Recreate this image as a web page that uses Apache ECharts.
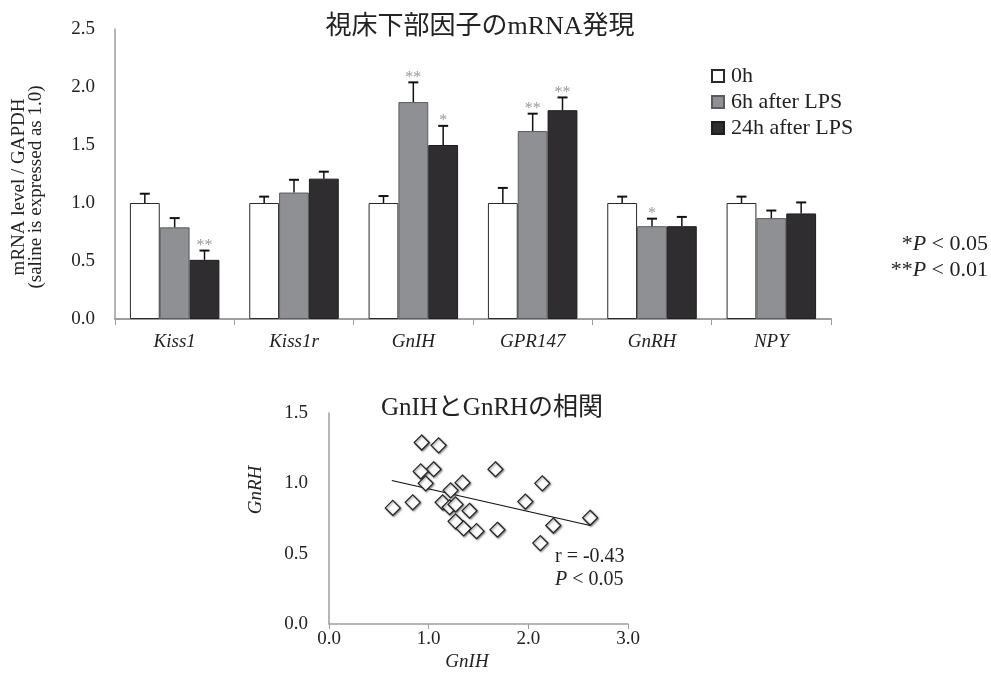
<!DOCTYPE html>
<html><head><meta charset="utf-8">
<script src="https://cdn.jsdelivr.net/npm/echarts@6/dist/echarts.min.js"></script>
<style>html,body{margin:0;padding:0;background:#fff}#c{width:991px;height:680px}</style>
</head><body><div id="c"></div>
<script>
// ---- Bar chart data ----
const categories = ['Kiss1', 'Kiss1r', 'GnIH', 'GPR147', 'GnRH', 'NPY'];
const seriesNames = ['0h', '6h after LPS', '24h after LPS'];
const values0h  = [1.00, 1.00, 1.00, 1.00, 1.00, 1.00];
const values6h  = [0.79, 1.09, 1.87, 1.62, 0.80, 0.87];
const values24h = [0.51, 1.21, 1.50, 1.80, 0.80, 0.91];
const err0h  = [0.08, 0.055, 0.06, 0.13, 0.055, 0.055];
const err6h  = [0.08, 0.11, 0.17, 0.15, 0.065, 0.065];
const err24h = [0.08, 0.06, 0.165, 0.11, 0.08, 0.095];
const sig0h  = ['', '', '', '', '', ''];
const sig6h  = ['', '', '**', '**', '*', ''];
const sig24h = ['**', '', '*', '**', '', ''];
const barYTicks = [0, 2.5, 0.5]; // min, max, interval

// ---- Scatter data ----
const gnihValues = [0.93, 1.10, 1.05, 0.92, 0.97, 1.34, 1.67, 2.14, 1.22, 0.64, 0.84, 1.14, 1.21, 1.27, 1.41, 1.27, 1.35, 1.48, 1.69, 1.97, 2.25, 2.12, 2.62];
const gnrhValues = [1.29, 1.27, 1.10, 1.085, 1.00, 1.005, 1.10, 1.00, 0.95, 0.825, 0.865, 0.865, 0.83, 0.85, 0.805, 0.73, 0.68, 0.66, 0.67, 0.87, 0.70, 0.575, 0.755];
const trendX = [0.63, 2.62];
const trendY = [1.02, 0.70];
const scatterXTicks = [0, 3, 1];
const scatterYTicks = [0, 1.5, 0.5];

const SERIF = "'Liberation Serif', 'Times New Roman', serif";
const TITLEF = "'Liberation Serif', 'Noto Sans CJK JP', sans-serif";
const AX = '#9e9e9e';

const chart = echarts.init(document.getElementById('c'), null, {renderer: 'canvas'});

const barStyles = [
  {color: '#ffffff', borderColor: '#2a2a2a', borderWidth: 1},
  {color: '#8f9093', borderColor: '#5c5c5e', borderWidth: 1},
  {color: '#2f2d30', borderColor: '#1e1e1e', borderWidth: 1}
];
const allVals = [values0h, values6h, values24h];
const allErr = [err0h, err6h, err24h];
const allSig = [sig0h, sig6h, sig24h];

function errSeries(si) {
  const vals = allVals[si], errs = allErr[si], sigs = allSig[si];
  return {
    type: 'custom', xAxisIndex: 0, yAxisIndex: 0, z: 5, silent: true,
    data: vals.map((v, i) => [i, v, errs[i]]),
    encode: {x: 0, y: 1},
    renderItem(params, api) {
      const ci = api.value(0), v = api.value(1), e = api.value(2);
      const base = api.coord([ci, v]);
      const top = api.coord([ci, v + e]);
      const bw = api.size([1, 0])[0] * 0.75 / 3;
      const x = base[0] + (si - 1) * bw;
      const cap = 5;
      const children = [
        {type: 'line', shape: {x1: x, y1: base[1], x2: x, y2: top[1]}, style: {stroke: '#111', lineWidth: 1.5}},
        {type: 'line', shape: {x1: x - cap, y1: top[1], x2: x + cap, y2: top[1]}, style: {stroke: '#111', lineWidth: 2}}
      ];
      const s = sigs[params.dataIndex];
      if (s) {
        children.push({type: 'text', style: {text: s, x: x, y: top[1] - 5, align: 'center', verticalAlign: 'middle',
          font: '16px ' + SERIF, fill: '#9a9a9a'}});
      }
      return {type: 'group', children};
    }
  };
}

const option = {
  backgroundColor: '#fff',
  animation: false,
  title: [
    {text: '視床下部因子のmRNA発現', left: 475, top: 9, textAlign: 'center',
      textStyle: {fontFamily: TITLEF, fontSize: 26, fontWeight: 'normal', color: '#222'}},
    {text: 'GnIHとGnRHの相関', left: 487, top: 391, textAlign: 'center',
      textStyle: {fontFamily: TITLEF, fontSize: 25, fontWeight: 'normal', color: '#222'}}
  ],
  legend: {
    data: seriesNames, orient: 'vertical', left: 711, top: 65, padding: 0,
    itemWidth: 12, itemHeight: 12, itemGap: 4, icon: 'rect',
    textStyle: {fontFamily: SERIF, fontSize: 22, color: '#222', padding: [0, 0, 0, 2]}
  },
  grid: [
    {left: 115, top: 29, width: 716, height: 290},
    {left: 329, top: 413, width: 299, height: 211}
  ],
  xAxis: [
    {type: 'category', gridIndex: 0, data: categories,
      axisLine: {lineStyle: {color: AX, width: 2}},
      axisTick: {show: true, length: 6, lineStyle: {color: AX, width: 1}},
      axisLabel: {fontFamily: SERIF, fontStyle: 'italic', fontSize: 19, color: '#222', margin: 13}},
    {type: 'value', gridIndex: 1, min: scatterXTicks[0], max: scatterXTicks[1], interval: scatterXTicks[2],
      splitLine: {show: false},
      axisLine: {lineStyle: {color: AX, width: 1.5}},
      axisTick: {show: true, length: 5, lineStyle: {color: AX}},
      axisLabel: {fontFamily: SERIF, fontSize: 19, color: '#222', margin: 6, formatter: v => v.toFixed(1)}}
  ],
  yAxis: [
    {type: 'value', gridIndex: 0, min: barYTicks[0], max: barYTicks[1], interval: barYTicks[2],
      splitLine: {show: false},
      axisLine: {show: true, lineStyle: {color: AX, width: 1.5}},
      axisTick: {show: false},
      axisLabel: {fontFamily: SERIF, fontSize: 19, color: '#222', margin: 20, formatter: v => v.toFixed(1)}},
    {type: 'value', gridIndex: 1, min: scatterYTicks[0], max: scatterYTicks[1], interval: scatterYTicks[2],
      splitLine: {show: false},
      axisLine: {show: true, lineStyle: {color: AX, width: 1.5}},
      axisTick: {show: false},
      axisLabel: {fontFamily: SERIF, fontSize: 19, color: '#222', margin: 21, formatter: v => v.toFixed(1)}}
  ],
  series: [
    ...seriesNames.map((n, si) => ({
      name: n, type: 'bar', xAxisIndex: 0, yAxisIndex: 0, data: allVals[si],
      barGap: '0%', barCategoryGap: '25%', itemStyle: barStyles[si], z: 2
    })),
    errSeries(0), errSeries(1), errSeries(2),
    {type: 'line', xAxisIndex: 1, yAxisIndex: 1, data: trendX.map((x, i) => [x, trendY[i]]),
      symbol: 'none', lineStyle: {color: '#111', width: 1.2}, z: 3, silent: true},
    {type: 'scatter', xAxisIndex: 1, yAxisIndex: 1, data: gnihValues.map((x, i) => [x, gnrhValues[i]]),
      symbol: 'diamond', symbolSize: 15, z: 4,
      itemStyle: {color: '#fff', borderColor: '#222', borderWidth: 1.2, opacity: 1,
        shadowBlur: 2, shadowColor: 'rgba(0,0,0,0.45)', shadowOffsetX: 1, shadowOffsetY: 1}}
  ],
  graphic: [
    {type: 'text', x: 28, y: 187, rotation: Math.PI / 2,
      style: {text: 'mRNA level / GAPDH\n(saline is expressed as 1.0)', align: 'center', verticalAlign: 'middle',
        font: '19px ' + SERIF, fill: '#222', lineHeight: 17}},
    {type: 'text', x: 988, y: 244,
      style: {text: '{n|*}{i|P}{n| < 0.05}', align: 'right', verticalAlign: 'middle',
        rich: {n: {fontFamily: SERIF, fontSize: 22, fill: '#222'}, i: {fontFamily: SERIF, fontSize: 22, fontStyle: 'italic', fill: '#222'}}}},
    {type: 'text', x: 988, y: 270,
      style: {text: '{n|**}{i|P}{n| < 0.01}', align: 'right', verticalAlign: 'middle',
        rich: {n: {fontFamily: SERIF, fontSize: 22, fill: '#222'}, i: {fontFamily: SERIF, fontSize: 22, fontStyle: 'italic', fill: '#222'}}}},
    {type: 'text', x: 555, y: 557,
      style: {text: 'r = -0.43', align: 'left', verticalAlign: 'middle', font: '20px ' + SERIF, fill: '#222'}},
    {type: 'text', x: 555, y: 580,
      style: {text: '{i|P}{n| < 0.05}', align: 'left', verticalAlign: 'middle',
        rich: {n: {fontFamily: SERIF, fontSize: 20, fill: '#222'}, i: {fontFamily: SERIF, fontSize: 20, fontStyle: 'italic', fill: '#222'}}}},
    {type: 'text', x: 467, y: 662,
      style: {text: 'GnIH', align: 'center', verticalAlign: 'middle', font: 'italic 19px ' + SERIF, fill: '#222'}},
    {type: 'text', x: 256, y: 490, rotation: Math.PI / 2,
      style: {text: 'GnRH', align: 'center', verticalAlign: 'middle', font: 'italic 19px ' + SERIF, fill: '#222'}}
  ]
};
chart.setOption(option);
</script>
</body></html>
